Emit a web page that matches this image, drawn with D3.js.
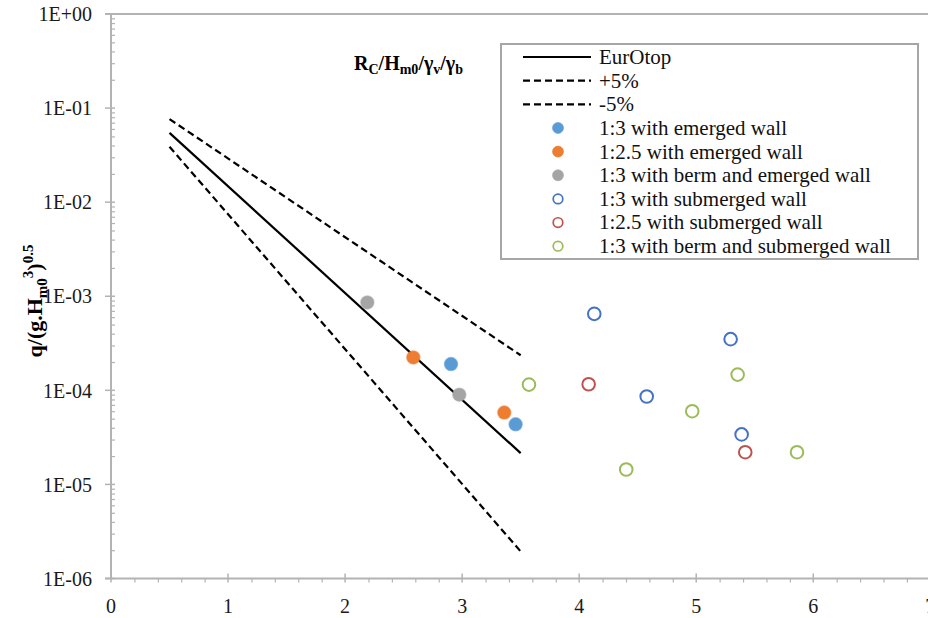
<!DOCTYPE html>
<html><head><meta charset="utf-8">
<script src="https://cdn.jsdelivr.net/npm/d3@7"></script>
<style>body{margin:0;background:#fff}svg{display:block}
svg text{font-family:"Liberation Serif","Times New Roman",Times,serif;}</style>
</head><body><svg id="c" width="928" height="618"></svg>
<script>
// ---- data ----
const xTicks = [0,1,2,3,4,5,6,7];
const yTicks = [1,1e-1,1e-2,1e-3,1e-4,1e-5,1e-6];
const yTickLabels = ["1E+00","1E-01","1E-02","1E-03","1E-04","1E-05","1E-06"];

const lineX = [0.5, 3.5];
const eurotopY = [0.0545, 2.15e-5];
const plus5Y = [0.0764, 2.36e-4];
const minus5Y = [0.0388, 1.94e-6];

const emerged13X = [2.905, 3.457];
const emerged13Y = [1.9e-4, 4.35e-5];
const emerged125X = [2.583, 3.36];
const emerged125Y = [2.24e-4, 5.8e-5];
const bermEmergedX = [2.19, 2.976];
const bermEmergedY = [8.6e-4, 9.0e-5];
const submerged13X = [4.129, 5.294, 4.577, 5.388];
const submerged13Y = [6.5e-4, 3.5e-4, 8.6e-5, 3.4e-5];
const submerged125X = [4.081, 5.419];
const submerged125Y = [1.16e-4, 2.2e-5];
const bermSubmergedX = [3.571, 5.354, 4.966, 5.861, 4.402];
const bermSubmergedY = [1.15e-4, 1.47e-4, 6.0e-5, 2.2e-5, 1.44e-5];

const legendLabels = ["EurOtop","+5%","-5%","1:3 with emerged wall","1:2.5 with emerged wall",
  "1:3 with berm and emerged wall","1:3 with submerged wall","1:2.5 with submerged wall",
  "1:3 with berm and submerged wall"];

// ---- drawing ----
const svg = d3.select("#c");
const L = 111, R = 930.3, T = 14, B = 578.5;
const x = d3.scaleLinear().domain([0,7]).range([L,R]);
const y = d3.scaleLog().domain([1e-6,1]).range([B,T]);
const axisCol = "#b3b3b3";

// minor ticks
const yMinor = [];
for (let e=-6; e<0; e++) for (let k=2; k<=9; k++) yMinor.push(k*Math.pow(10,e));
svg.append("g").attr("transform",`translate(${L},0)`)
  .call(d3.axisRight(y).tickValues(yMinor).tickSize(4).tickFormat(""))
  .call(g=>g.select(".domain").remove())
  .call(g=>g.selectAll("line").attr("stroke",axisCol).attr("stroke-width",1.2));
const xMinor = d3.range(0,35).filter(i=>i%5!==0).map(i=>i/5);
svg.append("g").attr("transform",`translate(0,${B})`)
  .call(d3.axisBottom(x).tickValues(xMinor).tickSize(4).tickFormat(""))
  .call(g=>g.select(".domain").remove())
  .call(g=>g.selectAll("line").attr("stroke",axisCol).attr("stroke-width",1.2));

// major ticks (crossing)
svg.append("g").selectAll("line").data(yTicks).join("line")
  .attr("x1",L-6).attr("x2",L+4).attr("y1",d=>y(d)).attr("y2",d=>y(d))
  .attr("stroke",axisCol).attr("stroke-width",1.5);
svg.append("g").selectAll("line").data(xTicks).join("line")
  .attr("y1",B-5).attr("y2",B+4).attr("x1",d=>x(d)).attr("x2",d=>x(d))
  .attr("stroke",axisCol).attr("stroke-width",1.5);

// axis lines
svg.append("line").attr("x1",L).attr("x2",L).attr("y1",T).attr("y2",B)
  .attr("stroke",axisCol).attr("stroke-width",2);
svg.append("line").attr("x1",L-6).attr("x2",928).attr("y1",B).attr("y2",B)
  .attr("stroke",axisCol).attr("stroke-width",2);
svg.append("line").attr("x1",L-6).attr("x2",928).attr("y1",T).attr("y2",T)
  .attr("stroke",axisCol).attr("stroke-width",2);

// tick labels
svg.append("g").selectAll("text").data(yTicks).join("text")
  .attr("x",92).attr("y",d=>y(d)).attr("dy","0.36em").attr("text-anchor","end")
  .attr("font-size",20).attr("fill","#1a1a1a")
  .text((d,i)=>yTickLabels[i]);
svg.append("g").selectAll("text").data(xTicks).join("text")
  .attr("x",d=>x(d)).attr("y",613).attr("text-anchor","middle")
  .attr("font-size",20).attr("fill","#1a1a1a")
  .text(d=>d);

// lines
const line = d3.line().x(d=>x(d[0])).y(d=>y(d[1]));
const mk = ys => lineX.map((v,i)=>[v, ys[i]]);
svg.append("path").attr("d",line(mk(plus5Y))).attr("fill","none").attr("stroke","#000")
  .attr("stroke-width",2.2).attr("stroke-dasharray","7,4");
svg.append("path").attr("d",line(mk(minus5Y))).attr("fill","none").attr("stroke","#000")
  .attr("stroke-width",2.2).attr("stroke-dasharray","7,4");
svg.append("path").attr("d",line(mk(eurotopY))).attr("fill","none").attr("stroke","#000")
  .attr("stroke-width",2.2);

// points
const series = [
  {xs:emerged13X, ys:emerged13Y, filled:true, col:"#5b9bd5"},
  {xs:emerged125X, ys:emerged125Y, filled:true, col:"#ed7d31"},
  {xs:bermEmergedX, ys:bermEmergedY, filled:true, col:"#a5a5a5"},
  {xs:submerged13X, ys:submerged13Y, filled:false, col:"#4472c4"},
  {xs:submerged125X, ys:submerged125Y, filled:false, col:"#c0504d"},
  {xs:bermSubmergedX, ys:bermSubmergedY, filled:false, col:"#9bbb59"},
];
series.forEach(s=>{
  svg.append("g").selectAll("circle").data(s.xs.map((v,i)=>[v,s.ys[i]])).join("circle")
    .attr("cx",d=>x(d[0])).attr("cy",d=>y(d[1]))
    .attr("r", s.filled ? 6.5 : 6.3)
    .attr("fill", s.filled ? s.col : "none")
    .attr("stroke", s.col).attr("stroke-opacity", s.filled?0.6:1)
    .attr("stroke-width", s.filled ? 1.5 : 2);
});

// title
const title = svg.append("text").attr("x",354).attr("y",69.5)
  .attr("font-size",20).attr("font-weight","bold").attr("fill","#000");
[["R",0],["C",1],["/H",0],["m0",1],["/γ",0],["v",1],["/γ",0],["b",1]].forEach(([t,sub],i,a)=>{
  const prev = i>0 ? a[i-1][1] : 0;
  title.append("tspan").attr("font-size", sub?14:20)
    .attr("dy", sub===prev ? 0 : (sub ? 4.5 : -4.5)).text(t);
});

// y axis label
const yl = svg.append("text").attr("transform","translate(42,301) rotate(-90)")
  .attr("text-anchor","middle").attr("font-size",22)
  .attr("font-weight","bold").attr("fill","#000");
yl.append("tspan").text("q/(g.H");
yl.append("tspan").attr("font-size",15).attr("dy",5).text("m0");
yl.append("tspan").attr("font-size",15).attr("dy",-14).text("3");
yl.append("tspan").attr("dy",9).text(")");
yl.append("tspan").attr("font-size",15).attr("dy",-9).text("0.5");

// legend
const lg = svg.append("g");
lg.append("rect").attr("x",501).attr("y",44).attr("width",417).attr("height",215)
  .attr("fill","#fff").attr("stroke","#a6a6a6").attr("stroke-width",2);
const rowY = i => 57 + i*23.65;
legendLabels.forEach((lab,i)=>{
  const cy = rowY(i);
  if (i<3) {
    lg.append("line").attr("x1",523).attr("x2",591).attr("y1",cy).attr("y2",cy)
      .attr("stroke","#000").attr("stroke-width",2.2)
      .attr("stroke-dasharray", i===0 ? null : "7,4");
  } else {
    const s = series[i-3];
    lg.append("circle").attr("cx",558).attr("cy",cy).attr("r",s.filled?5.5:4.8)
      .attr("fill", s.filled ? s.col : "none").attr("stroke", s.col)
      .attr("stroke-opacity", s.filled?0.6:1).attr("stroke-width", s.filled?1:1.7);
  }
  lg.append("text").attr("x",599).attr("y",cy).attr("dy","0.33em")
    .attr("font-size",21).attr("fill","#111").text(lab);
});
</script></body></html>
